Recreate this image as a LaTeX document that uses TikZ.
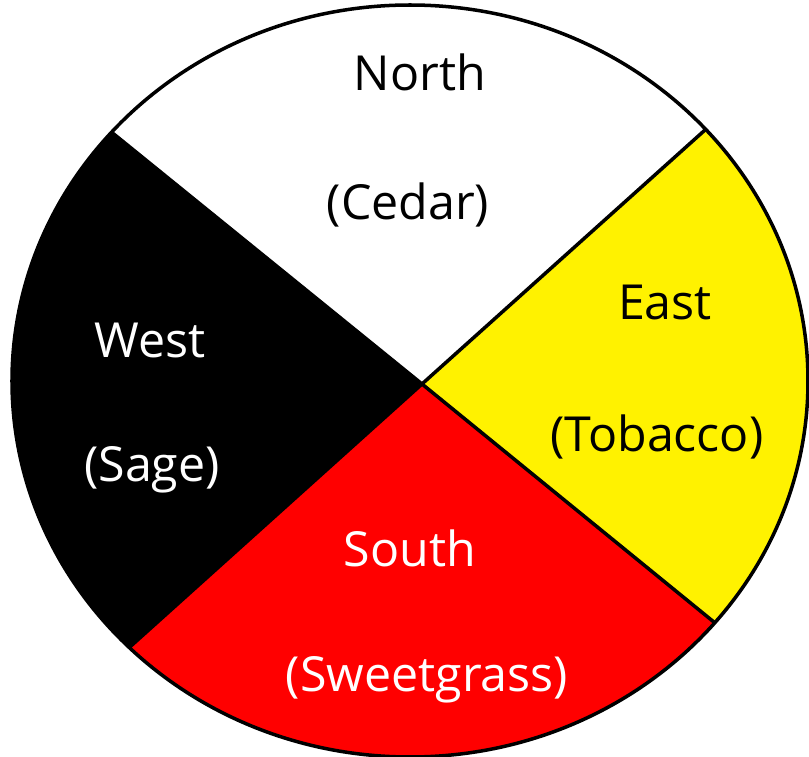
\documentclass[tikz,border=0pt]{standalone}
\usepackage{fontspec}
\setmainfont{Open Sans}
\usetikzlibrary{calc}

\begin{document}
\begin{tikzpicture}[x=0.02cm, y=-0.02cm, line width=2pt,
    lbl/.style={font=\fontsize{27.5}{32}\selectfont, inner sep=0pt},
    wlbl/.style={lbl, text=white}
]
    \useasboundingbox (0,0) rectangle (809,757);
    % hub and the four rim points
    \coordinate (c) at (422,384);
    \coordinate (nw) at (115,135);
    \coordinate (ne) at (705,130);
    \coordinate (se) at (720,627);
    \coordinate (sw) at (132,645);
    \begin{scope}
        \clip (410,381) ellipse [x radius=398, y radius=376];
        \fill[white] (0,0) rectangle (809,757);
        \fill[yellow] (c) -- ($(c)!3!(ne)$) -- (1500,384) -- ($(c)!3!(se)$) -- cycle;
        \fill[red] (c) -- ($(c)!3!(se)$) -- (422,1500) -- ($(c)!3!(sw)$) -- cycle;
        \fill[black] (c) -- ($(c)!3!(sw)$) -- (-700,384) -- ($(c)!3!(nw)$) -- cycle;
        \foreach \p in {nw,ne,se,sw}
            \draw (c) -- ($(c)!3!(\p)$);
    \end{scope}
    \draw (410,381) ellipse [x radius=398, y radius=376];
    % labels
    \node[lbl] (north) at (420,72) {North};
    \node[lbl] (cedar) at (408,205) {(Cedar)};
    \node[lbl] (east) at (665,302) {East};
    \node[lbl] (tobacco) at (657,437) {(Tobacco)};
    \node[wlbl] (west) at (150,340) {West};
    \node[wlbl] (sage) at (152,470) {(Sage)};
    \node[wlbl] (south) at (410,548) {South};
    \node[wlbl] (sweetgrass) at (427,680) {(Sweetgrass)};
\end{tikzpicture}
\end{document}
